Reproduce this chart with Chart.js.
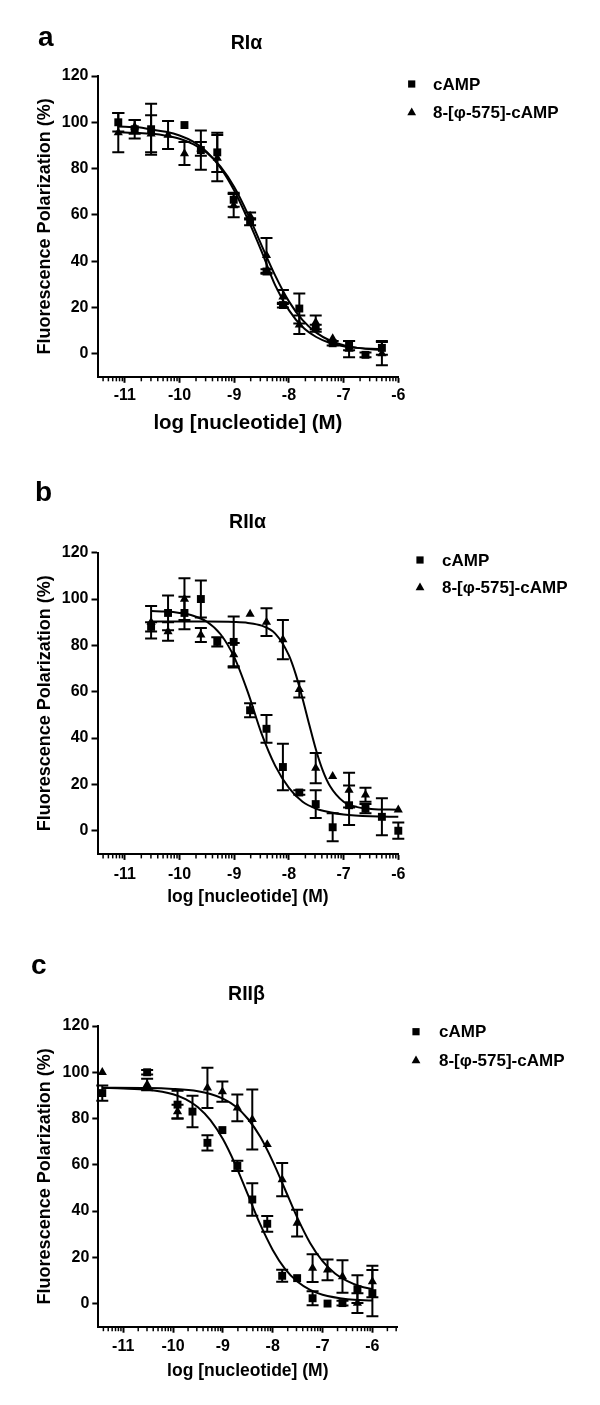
<!DOCTYPE html>
<html><head><meta charset="utf-8">
<script src="https://cdn.jsdelivr.net/npm/chart.js@4.4.0/dist/chart.umd.min.js"></script>
<style>
html,body{margin:0;padding:0;background:#fff;}
#wrap{position:relative;width:600px;height:1405px;overflow:hidden;}
canvas{position:absolute;left:0;}
</style></head><body>
<div id="wrap">
<canvas id="ca" style="top:0px" width="600" height="460"></canvas>
<canvas id="cb" style="top:460px" width="600" height="470"></canvas>
<canvas id="cc" style="top:930px" width="600" height="475"></canvas>
</div>
<script>
// ---------- DATA ----------
const seriesNames = ['cAMP', '8-[φ-575]-cAMP'];
const panelTitles = ['RIα', 'RIIα', 'RIIβ'];
const panelLetters = ['a', 'b', 'c'];
const xTitle = 'log [nucleotide] (M)';
const yTitle = 'Fluorescence Polarization (%)';
const xMajorTicks = [-11, -10, -9, -8, -7, -6];
const yMajorTicks = [0, 20, 40, 60, 80, 100, 120];

// log[nucleotide] of the dilution series
const xDose = [-11.42, -11.12, -10.82, -10.52, -10.21, -9.91, -9.61, -9.31, -9.01, -8.71, -8.41, -8.11, -7.81, -7.51, -7.20, -6.90, -6.60, -6.30, -6.00];

// Panel a: RIα
const aCampY    = [null, 100, 97, 97, null, 98.8, 88, 87, 66.5, 57, 35.5, 21, 19.5, 11, 4.5, 3.5, -0.5, 2.5, null];
const aCampErr  = [0, 4, 4, 11, 0, 0, 8.5, 8.5, 3, 1.5, 1, 1, 6.5, 1.5, 1, 2, 1, 3, 0];
const aAnaY     = [null, 95.5, 98, 95, 94.5, 86.5, 88.5, 84.5, 64, 59.5, 42.5, 24.5, 12.5, 13.5, 6.5, 2, null, 0, null];
const aAnaErr   = [0, 8.5, 3, 8, 6, 5, 3, 10, 5, 1.5, 7.5, 3, 4, 3, 0, 3.5, 0, 5, 0];
const aFitX     = [-11.12, -10.75, -10.5, -10.25, -10, -9.75, -9.5, -9.25, -9, -8.75, -8.5, -8.25, -8, -7.75, -7.5, -7.25, -7, -6.75, -6.5, -6.3];
const aCampFit  = [98.2, 97.8, 96.8, 95.9, 94.3, 91.6, 87.2, 80.3, 70.5, 58.0, 44.2, 29.5, 18.8, 11.5, 7.2, 4.6, 3.2, 2.5, 2.1, 2.0];
const aAnaFit   = [95.7, 95.4, 95.0, 94.2, 92.9, 90.6, 86.8, 80.8, 72.0, 60.3, 46.8, 33.7, 22.6, 14.5, 9.1, 5.7, 3.7, 2.5, 1.9, 1.6];

// Panel b: RIIα
const bCampY    = [null, null, null, 88, 94, 94, 100, 81.5, 81.5, 52, 44, 27.5, 16.5, 11.5, 1.5, 11, 9.5, 6, 0];
const bCampErr  = [0, 0, 0, 2, 7.5, 7, 8, 2, 11, 3, 6, 10, 1, 6, 6, 8.5, 2, 8, 3.5];
const bAnaY     = [null, null, null, 90, 86, 100, 84.5, null, 76, 93.5, 90, 82.5, 61, 27, 23.5, 17.5, 15.5, null, 9];
const bAnaErr   = [0, 0, 0, 7, 4, 9, 3, 0, 5, 0, 6, 8.5, 3.5, 6.5, 0, 7.5, 3, 0, 0];
const bCampFitX = [-10.52, -10.25, -10, -9.75, -9.5, -9.25, -9, -8.75, -8.5, -8.25, -8, -7.75, -7.5, -7.25, -7, -6.5, -6.0];
const bCampFit  = [94.8, 94.6, 94.0, 92.8, 90.2, 84.8, 74.9, 59.7, 41.9, 28, 18.5, 12.5, 9.5, 8, 7, 6.2, 6.0];
const bAnaFitX  = [-10.52, -10, -9.5, -9, -8.75, -8.5, -8.25, -8, -7.875, -7.75, -7.625, -7.5, -7.375, -7.25, -7, -6.75, -6.5, -6.0];
const bAnaFit   = [90.3, 90.3, 90.3, 90.1, 89.7, 88.5, 85.1, 75.7, 67.5, 57.0, 45.5, 34.5, 25.6, 19.3, 12.5, 10.2, 9.4, 9.05];

// Panel c: RIIβ
const cCampY    = [91, null, null, 100, null, 86, 83, 69.5, 75, 59.5, 45, 34.5, 12, 11, 2.3, 0, 0.2, 6.2, 4.5];
const cCampErr  = [3.3, 0, 0, 1, 0, 6, 6.8, 3.3, 0, 2.2, 7, 3.4, 2.6, 0, 3, 0, 1, 6, 10];
const cAnaY     = [100, null, null, 94.7, null, 83, null, 93.3, 91.6, 84.6, 79.6, 68.8, 53.6, 34.8, 15.3, 14.6, 11.7, 0.2, 9.5];
const cAnaErr   = [0, 0, 0, 2.5, 0, 3, 0, 8.7, 4.4, 5.8, 13, 0, 7.2, 5.8, 6, 4.5, 7, 4.3, 6.8];
const cCampFitX = [-11.42, -11, -10.5, -10, -9.75, -9.5, -9.25, -9, -8.75, -8.5, -8.25, -8, -7.75, -7.5, -7.25, -7, -6.5, -6.0];
const cCampFit  = [93.2, 93.0, 92.4, 90.5, 88.4, 84.9, 79.3, 71.1, 60.1, 47.2, 34.2, 23.2, 14.9, 9.4, 5.9, 3.8, 1.9, 1.3];
const cAnaFitX  = [-11.42, -10.5, -10, -9.5, -9.25, -9, -8.75, -8.5, -8.25, -8, -7.75, -7.5, -7.25, -7, -6.75, -6.5, -6.25, -6.0];
const cAnaFit   = [93.3, 93.2, 92.8, 91.8, 90.6, 88.6, 85.3, 79.9, 72.1, 61.5, 49.2, 36.8, 26.2, 18.3, 13.0, 9.7, 7.5, 6.3];

// ---------- DRAWING ----------
const FONT = "'Liberation Sans', Arial, Helvetica, sans-serif";
const pts = (xs, ys) => xs.map((x, i) => ({x: x, y: ys[i]})).filter(p => p.y !== null && p.y !== undefined);

function makePanel(p) {
  const errPlugin = {
    id: 'errbars',
    afterDatasetsDraw(chart) {
      const ctx = chart.ctx, xs = chart.scales.x, ys = chart.scales.y;
      ctx.save();
      ctx.strokeStyle = '#000'; ctx.lineWidth = 2; ctx.lineCap = 'butt';
      [[p.campY, p.campErr], [p.anaY, p.anaErr]].forEach(([yv, ev]) => {
        yv.forEach((v, i) => {
          if (v === null || !ev[i]) return;
          const px = xs.getPixelForValue(xDose[i]);
          const t = ys.getPixelForValue(v + ev[i]);
          const b = ys.getPixelForValue(v - ev[i]);
          ctx.beginPath();
          ctx.moveTo(px, t); ctx.lineTo(px, b);
          ctx.moveTo(px - 6, t); ctx.lineTo(px + 6, t);
          ctx.moveTo(px - 6, b); ctx.lineTo(px + 6, b);
          ctx.stroke();
        });
      });
      ctx.restore();
    },
    afterDraw(chart) {
      const ctx = chart.ctx, xs = chart.scales.x, y0 = chart.chartArea.bottom;
      ctx.save();
      // minor log ticks
      ctx.strokeStyle = '#000'; ctx.lineWidth = 1.5;
      for (let d = Math.floor(xs.min); d < xs.max; d++) {
        for (let k = 2; k <= 9; k++) {
          const v = d + Math.log10(k);
          if (v < xs.min - 1e-9 || v > xs.max + 1e-9) continue;
          const px = xs.getPixelForValue(v);
          ctx.beginPath(); ctx.moveTo(px, y0); ctx.lineTo(px, y0 + 4.5); ctx.stroke();
        }
      }
      ctx.fillStyle = '#000';
      // panel letter
      ctx.font = 'bold 28px ' + FONT;
      ctx.textAlign = 'left'; ctx.textBaseline = 'alphabetic';
      ctx.fillText(p.letter, p.letterX, p.letterY);
      // title
      ctx.font = 'bold 19.5px ' + FONT;
      ctx.textAlign = 'center';
      ctx.fillText(p.title, p.titleX, p.titleY);
      // legend
      ctx.font = 'bold 17px ' + FONT;
      ctx.textAlign = 'left'; ctx.textBaseline = 'middle';
      ctx.fillRect(p.legX - 3.6, p.legY1 - 3.6, 7.2, 7.2);
      ctx.beginPath();
      ctx.moveTo(p.legX, p.legY2 - 4.6);
      ctx.lineTo(p.legX - 4.4, p.legY2 + 3.2);
      ctx.lineTo(p.legX + 4.4, p.legY2 + 3.2);
      ctx.closePath(); ctx.fill();
      ctx.fillText(seriesNames[0], p.legTX, p.legY1 + 1);
      ctx.fillText(seriesNames[1], p.legTX, p.legY2 + 1);
      ctx.restore();
    }
  };

  const tickFont = {family: FONT, size: 16, weight: 'bold'};
  return new Chart(document.getElementById(p.id), {
    type: 'scatter',
    data: {
      datasets: [
        {label: seriesNames[0], data: pts(xDose, p.campY), pointStyle: 'rect', pointRadius: 5.6,
         pointBackgroundColor: '#000', pointBorderWidth: 0, showLine: false, clip: false},
        {label: seriesNames[1], data: pts(xDose, p.anaY), pointStyle: 'triangle', pointRadius: 5.3,
         pointBackgroundColor: '#000', pointBorderWidth: 0, showLine: false, clip: false},
        {label: 'fit ' + seriesNames[0], data: pts(p.campFitX, p.campFit), showLine: true, pointRadius: 0,
         borderColor: '#000', borderWidth: 2, cubicInterpolationMode: 'monotone', fill: false, clip: false},
        {label: 'fit ' + seriesNames[1], data: pts(p.anaFitX, p.anaFit), showLine: true, pointRadius: 0,
         borderColor: '#000', borderWidth: 2, cubicInterpolationMode: 'monotone', fill: false, clip: false}
      ]
    },
    options: {
      responsive: false, animation: false, devicePixelRatio: 1,
      layout: {padding: {left: 0, top: p.padTop, right: p.padRight, bottom: p.padBottom}},
      plugins: {legend: {display: false}, tooltip: {enabled: false}},
      scales: {
        x: {
          type: 'linear', min: -11.5, max: p.xMax,
          afterBuildTicks: s => { s.ticks = xMajorTicks.map(v => ({value: v})); },
          afterFit: s => { s.height = 60; },
          grid: {drawOnChartArea: false, drawTicks: true, tickLength: 6, tickWidth: 2, tickColor: '#000'},
          border: {display: true, color: '#000', width: 2},
          ticks: {color: '#000', font: tickFont, padding: p.xTickPad, maxRotation: 0, autoSkip: false},
          title: {display: true, text: xTitle, color: '#000',
                  font: {family: FONT, size: p.xTitleSize, weight: 'bold'}, padding: {top: 0, bottom: p.xTitlePad}}
        },
        y: {
          type: 'linear', min: -10, max: 120,
          afterBuildTicks: s => { s.ticks = yMajorTicks.map(v => ({value: v})); },
          afterFit: s => { s.width = p.axisLeft; },
          grid: {drawOnChartArea: false, drawTicks: true, tickLength: 6, tickWidth: 2, tickColor: '#000'},
          border: {display: true, color: '#000', width: 2},
          ticks: {color: '#000', font: tickFont, padding: 3},
          title: {display: true, text: yTitle, color: '#000',
                  font: {family: FONT, size: 18, weight: 'bold'}, padding: {top: 34, bottom: 0}}
        }
      }
    },
    plugins: [errPlugin]
  });
}

makePanel({id: 'ca', letter: panelLetters[0], title: panelTitles[0],
  campY: aCampY, campErr: aCampErr, anaY: aAnaY, anaErr: aAnaErr,
  campFitX: aFitX, campFit: aCampFit, anaFitX: aFitX, anaFit: aAnaFit,
  xMax: -6, axisLeft: 97.5, padTop: 76, padRight: 201.7, padBottom: 23.2,
  xTickPad: 3, xTitleSize: 20.5, xTitlePad: 1.2,
  letterX: 38, letterY: 45.7, titleX: 246.5, titleY: 49.3,
  legX: 411.7, legY1: 84, legY2: 112, legTX: 433});

makePanel({id: 'cb', letter: panelLetters[1], title: panelTitles[1],
  campY: bCampY, campErr: bCampErr, anaY: bAnaY, anaErr: bAnaErr,
  campFitX: bCampFitX, campFit: bCampFit, anaFitX: bAnaFitX, anaFit: bAnaFit,
  xMax: -6, axisLeft: 97.5, padTop: 92.7, padRight: 201.7, padBottom: 16.1,
  xTickPad: 5, xTitleSize: 17.5, xTitlePad: 6.7,
  letterX: 35, letterY: 41, titleX: 247.5, titleY: 68.3,
  legX: 420, legY1: 100, legY2: 127, legTX: 442});

makePanel({id: 'cc', letter: panelLetters[2], title: panelTitles[2],
  campY: cCampY, campErr: cCampErr, anaY: cAnaY, anaErr: cAnaErr,
  campFitX: cCampFitX, campFit: cCampFit, anaFitX: cAnaFitX, anaFit: cAnaFit,
  xMax: -5.5, axisLeft: 98.3, padTop: 96, padRight: 202.7, padBottom: 18.3,
  xTickPad: 4, xTitleSize: 17.5, xTitlePad: 4.9,
  letterX: 31, letterY: 43.5, titleX: 246.5, titleY: 70,
  legX: 416, legY1: 101.7, legY2: 130, legTX: 439});
</script>
</body></html>
